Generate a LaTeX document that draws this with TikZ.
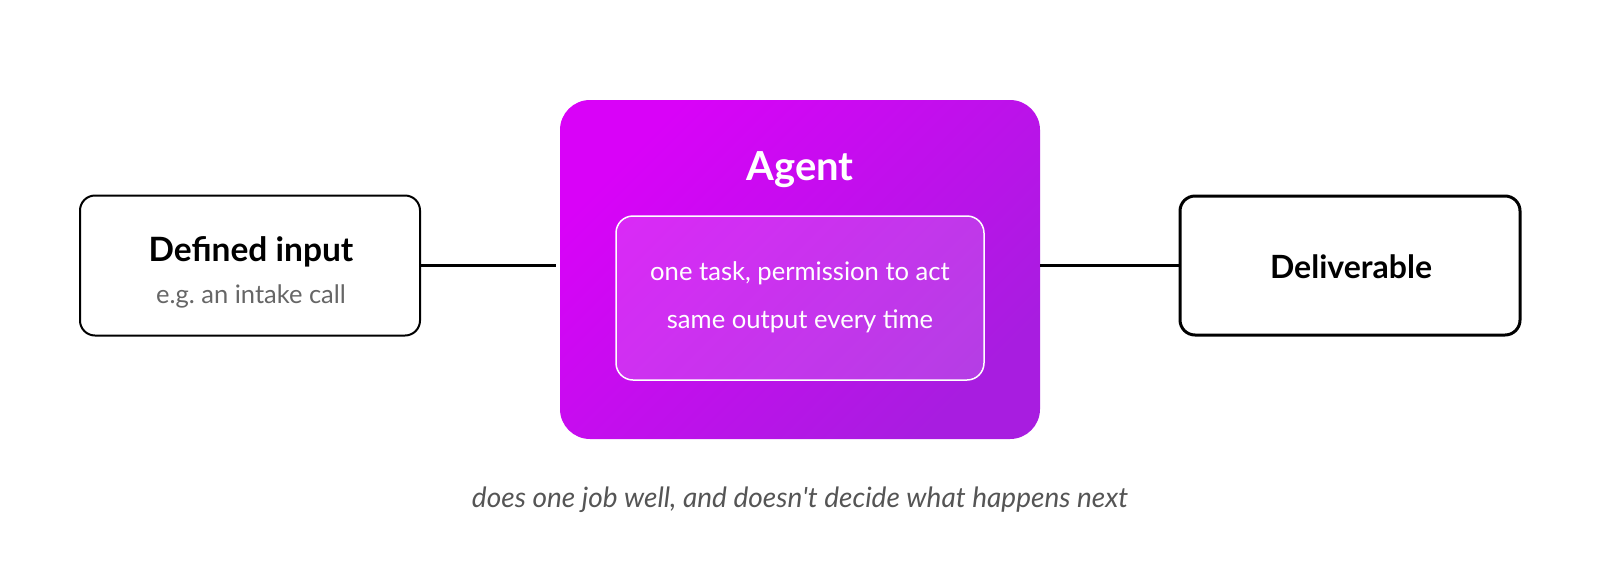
\documentclass[tikz,border=0pt]{standalone}
\usepackage{fontspec}
\setmainfont{Lato}
\usetikzlibrary{positioning}
\definecolor{magA}{HTML}{D902F8}
\definecolor{magB}{HTML}{A81DE0}
\definecolor{subgray}{HTML}{666666}
\definecolor{capgray}{HTML}{555555}
\tikzset{
  plainbox/.style={draw=black, rounded corners=15pt, fill=white, inner sep=0pt},
  agentbox/.style={rounded corners=30pt, inner sep=0pt, shading=axis, top color=magA, bottom color=magB, shading angle=45},
  innerbox/.style={draw=white, line width=1.5pt, rounded corners=17pt, fill=white, fill opacity=0.15, inner sep=0pt},
  link/.style={draw=black, line width=2.5pt},
  txt/.style={inner sep=0pt, anchor=base},
}
\begin{document}
\begin{tikzpicture}[x=1pt,y=-1pt]
\frenchspacing
\useasboundingbox (0,0) rectangle (1600,560);
\fill[white] (0,0) rectangle (1600,560);
% boxes
\node[plainbox, line width=2pt, minimum width=340pt, minimum height=140pt] (inp) at (250,265.5) {};
\node[plainbox, line width=3pt, minimum width=340pt, minimum height=139pt] (del) at (1350,265.5) {};
\node[agentbox, minimum width=480pt, minimum height=339pt] (agent) at (800,269.5) {};
\node[innerbox, minimum width=368pt, minimum height=164pt] (inner) at (800,298) {};
% texts
\node[txt, font=\fontsize{33.5}{38}\selectfont\bfseries] (inpt) at (251,261.5) {Defined input};
\node[txt, font=\fontsize{25.5}{30}\selectfont, text=subgray] (inps) at (251,303) {e.g. an intake call};
\node[txt, font=\fontsize{32}{36}\selectfont\bfseries] (delt) at (1351,278) {Deliverable};
\node[txt, font=\fontsize{40}{44}\selectfont\bfseries, text=white] (agt) at (800,180) {Agent};
\node[txt, font=\fontsize{25.6}{30}\selectfont, text=white] (l1) at (800,280) {one task, permission to act};
\node[txt, font=\fontsize{25.6}{30}\selectfont, text=white] (l2) at (800,328) {same output every time};
\node[txt, font=\fontsize{28}{32}\selectfont\itshape, text=capgray] (cap) at (800,507) {does one job well, and doesn\textquotesingle t decide what happens next};
% connectors
\draw[link, shorten >=4pt] (inp.east) -- (agent.west |- inp.east);
\draw[link] (agent.east |- del.west) -- (del.west);
\end{tikzpicture}
\end{document}
